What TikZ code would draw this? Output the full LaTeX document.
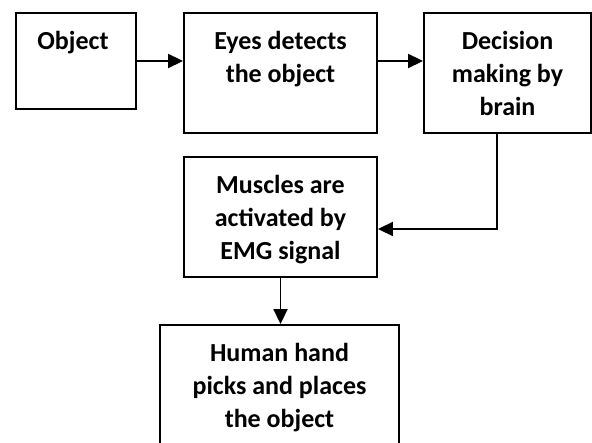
\documentclass[tikz,border=0pt]{standalone}
\usepackage{fontspec}
\setmainfont{Carlito}
\usetikzlibrary{arrows.meta,calc}

\begin{document}
\begin{tikzpicture}[x=1pt,y=-1pt,
  box/.style={draw=black, line width=1.9pt, inner sep=0pt, fill=white},
  txt/.style={font=\fontsize{26}{33}\selectfont\bfseries, align=center,
              inner sep=0pt, anchor=north, text=black},
  flow/.style={line width=1.9pt, -{Triangle[length=15pt,width=14pt]}}]

  \useasboundingbox (0,0) rectangle (592,443);
  \clip (0,0) rectangle (592,443);

  % boxes
  \node[box, minimum width=120pt, minimum height=96pt]  (obj) at (76,61) {};
  \node[box, minimum width=193pt, minimum height=120pt] (eye) at (280.5,73) {};
  \node[box, minimum width=167pt, minimum height=120pt] (dec) at (507.5,73) {};
  \node[box, minimum width=193pt, minimum height=120pt] (mus) at (280.5,217) {};
  \node[box, minimum width=239pt, minimum height=135pt] (hum) at (279.5,392.5) {};

  % box texts, set from the top of each box
  \node[txt] (objT) at ($(obj.north)+(-3,13.9)$) {\strut Object};
  \node[txt] (eyeT) at ($(eye.north)+(0,13.9)$) {\strut Eyes detects\\the object};
  \node[txt] (decT) at ($(dec.north)+(0,13.9)$) {\strut Decision\\making by\\brain};
  \node[txt] (musT) at ($(mus.north)+(0,13.9)$) {\strut Muscles are\\activated by\\EMG signal};
  \node[txt] (humT) at ($(hum.north)+(0,13.9)$) {\strut Human hand\\picks and places\\the object};

  % connectors
  \coordinate (row) at (0,61);
  \coordinate (turn) at (497,229);
  \draw[flow] (obj.east |- row) -- (eye.west |- row);
  \draw[flow] (eye.east |- row) -- (dec.west |- row);
  \draw[flow] (dec.south -| turn) -- (turn) -- (turn -| mus.east);
  \draw[flow] (mus.south) -- (mus.south |- hum.north);
\end{tikzpicture}
\end{document}
